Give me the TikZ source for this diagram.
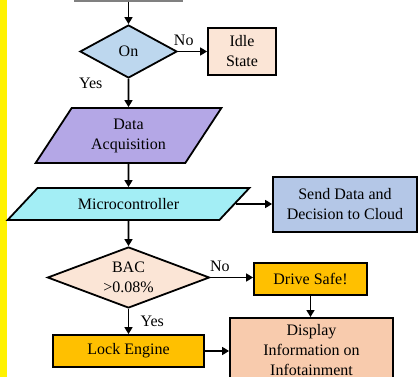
\documentclass[tikz,border=0pt]{standalone}
\usepackage{fontspec}
\setmainfont{Liberation Serif}
\usepackage{xcolor}
\usetikzlibrary{arrows.meta,shapes.geometric}
\definecolor{onblue}{HTML}{BDD7EE}
\definecolor{idlepeach}{HTML}{FBE5D6}
\definecolor{acqpurple}{HTML}{B4A7E6}
\definecolor{mcucyan}{HTML}{A3EEF5}
\definecolor{cloudblue}{HTML}{B4C7E7}
\definecolor{safeorange}{HTML}{FFC000}
\definecolor{displaypeach}{HTML}{F8CBAD}
\tikzset{
	block/.style={rectangle, draw=black, line width=1.8pt, align=center, inner sep=3pt},
	decision/.style={diamond, draw=black, line width=1.8pt, inner sep=0pt},
	io/.style={trapezium, trapezium stretches=true, draw=black, line width=1.8pt, align=center, inner sep=0pt},
	flow/.style={-{Triangle[length=7pt,width=8pt]}, line width=1.6pt}
}
\begin{document}
\begin{tikzpicture}[x=1pt, y=-1pt, font=\fontsize{16pt}{20pt}\selectfont]

	% Fix the frame
	\useasboundingbox (0,0) rectangle (418,377);
	\clip (0,0) rectangle (418,377);
	\fill[yellow] (0,0) rectangle (7,377);

	% Draw the main column
	\node[block, draw=gray, line width=1.2pt, minimum width=107pt, minimum height=30pt] (prev) at (128.5,-14) {};
	\node[decision, fill=onblue, minimum width=97pt, minimum height=53pt] (on) at (128.5,51.5) {On};
	\node[io, fill=acqpurple, trapezium left angle=55, trapezium right angle=125, minimum width=186pt, minimum height=55pt] (acq) at (128.5,135.5) {Data\\Acquisition};
	\node[io, fill=mcucyan, trapezium left angle=34, trapezium right angle=146, minimum width=242pt, minimum height=32pt] (mcu) at (128.5,204) {Microcontroller};
	\node[decision, fill=idlepeach, minimum width=162pt, minimum height=61pt] (bac) at (128.5,277.5) {};
	\node[align=center] (bactext) at (bac) {BAC\\>0.08\%};
	\node[block, fill=safeorange, minimum width=151pt, minimum height=32pt] (lock) at (128.5,351) {Lock Engine};

	% Draw the side blocks
	\node[block, fill=idlepeach, minimum width=68pt, minimum height=47pt] (idle) at (242,51.5) {Idle\\State};
	\node[block, fill=cloudblue, minimum width=144pt, minimum height=55pt] (cloud) at (345,204.5) {Send Data and\\Decision to Cloud};
	\node[block, fill=safeorange, minimum width=113pt, minimum height=32pt] (safe) at (310.5,279) {Drive Safe!};
	\node[block, fill=displaypeach, minimum width=163pt, anchor=north, inner ysep=6pt] (display) at (311.5,317) {Display\\Information on\\Infotainment};

	% Draw the arrows
	\draw[flow] (prev.south) -- (on.north);
	\draw[flow] (on.east) -- node[pos=0.2, above=2pt] {No} (on.east -| idle.west);
	\draw[flow] (on.south) -- node[pos=0.15, left=22pt] {Yes} (acq.north);
	\draw[flow] (acq.south) -- (mcu.north);
	\draw[flow] (mcu.east) -- (mcu.east -| cloud.west);
	\draw[flow] (mcu.south) -- (bac.north);
	\draw[flow] (bac.east) -- node[pos=0.22, above=2pt] {No} (bac.east -| safe.west);
	\draw[flow] (bac.south) -- node[midway, right=8pt] {Yes} (lock.north);
	\draw[flow] (safe.south) -- (safe.south |- display.north);
	\draw[flow] (lock.east) -- (lock.east -| display.west);

\end{tikzpicture}
\end{document}
